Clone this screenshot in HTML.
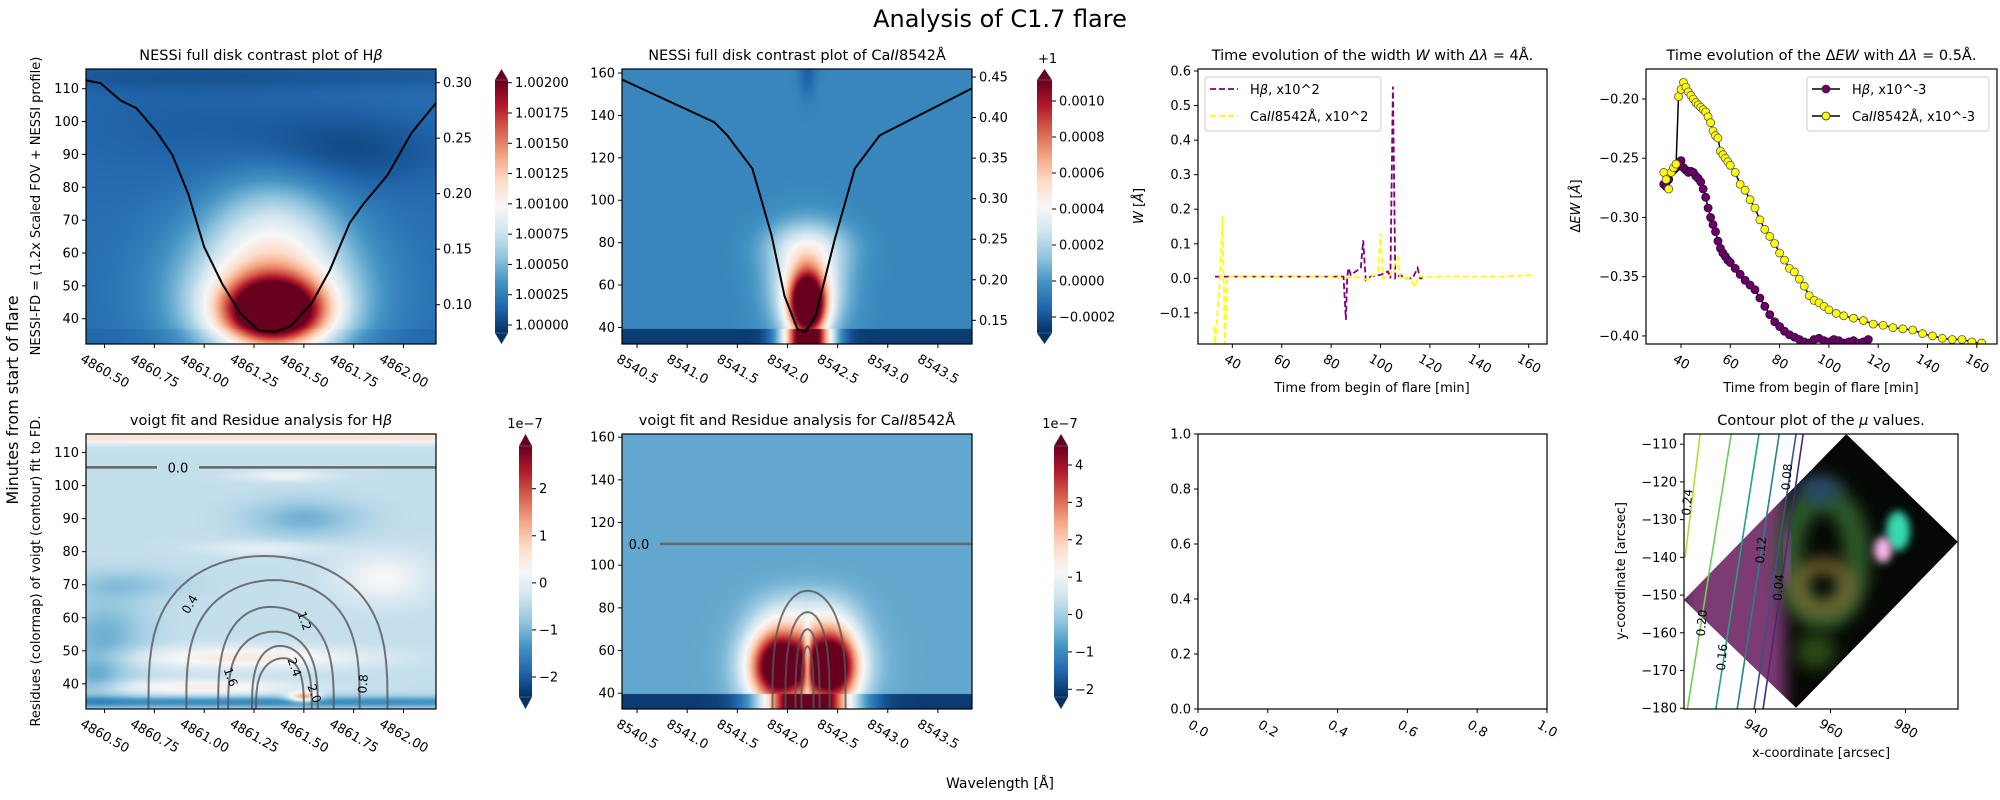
<!DOCTYPE html>
<html><head><meta charset="utf-8">
<style>
html,body{margin:0;padding:0;background:#fff;}
#fig{position:relative;width:2000px;height:800px;overflow:hidden;background:#fff;font-family:"DejaVu Sans","Liberation Sans",sans-serif;}
canvas{position:absolute;}
svg{position:absolute;left:0;top:0;}
text{font-family:"DejaVu Sans","Liberation Sans",sans-serif;fill:#000;}
</style></head>
<body>
<div id="fig">
<canvas id="hm1"></canvas>
<canvas id="hm2"></canvas>
<canvas id="hm3"></canvas>
<canvas id="hm4"></canvas>
<svg id="svg" width="2000" height="800" xmlns="http://www.w3.org/2000/svg">
<defs>
<linearGradient id="rdbu" x1="0" y1="1" x2="0" y2="0">
<stop offset="0" stop-color="#053061"/><stop offset="0.1" stop-color="#2166ac"/><stop offset="0.2" stop-color="#4393c3"/><stop offset="0.3" stop-color="#92c5de"/><stop offset="0.4" stop-color="#d1e5f0"/><stop offset="0.5" stop-color="#f7f7f7"/><stop offset="0.6" stop-color="#fddbc7"/><stop offset="0.7" stop-color="#f4a582"/><stop offset="0.8" stop-color="#d6604d"/><stop offset="0.9" stop-color="#b2182b"/><stop offset="1" stop-color="#67001f"/>
</linearGradient>
<filter id="blur8" x="-50%" y="-50%" width="200%" height="200%"><feGaussianBlur stdDeviation="8"/></filter>
<filter id="blur4" x="-50%" y="-50%" width="200%" height="200%"><feGaussianBlur stdDeviation="4"/></filter>
</defs>
<text x="1000" y="27" font-size="24" text-anchor="middle">Analysis of C1.7 flare</text>
<text transform="translate(18,400) rotate(-90)" font-size="16" text-anchor="middle">Minutes from start of flare</text>
<text transform="translate(40,206) rotate(-90)" font-size="13" text-anchor="middle">NESSI-FD = (1.2x Scaled FOV + NESSI profile)</text>
<text transform="translate(40,571) rotate(-90)" font-size="13" text-anchor="middle">Residues (colormap) of voigt (contour) fit to FD.</text>
<text x="1000" y="788" font-size="14" text-anchor="middle">Wavelength [Å]</text>
</svg>
</div>
<script>
// ---------------- DATA ----------------
const hbContrastBase = 0.12;
const hbContrastBlobs = [[4861.35,42,0.18,7,0.9],[4861.33,48,0.3,14,0.45],[4861.35,68,0.22,12,0.18],[4861.7,91,0.35,8,-0.07],[4860.9,100,0.5,12,-0.03],[4861.3,114,2,3,-0.04]];
const caContrastBase = 0.17;
const caContrastBlobs = [[8542.2,50,0.13,11,0.95],[8542.2,60,0.25,16,0.35],[8542.2,78,0.3,8,0.15],[8542.2,160,0.06,8,-0.08]];
const caDarkBandMax = 39.5;
const hbResBase = 0.38;
const hbResBlobs = [[4861.3,114.5,3,1.2,0.2],[4861.2,48,0.4,2.2,0.17],[4861.0,39,0.3,1.5,0.16],[4861.9,72,0.15,5,0.12],[4861.5,90,0.2,4,-0.12],[4860.5,55,0.15,8,-0.12],[4860.45,42,0.1,5,-0.1],[4860.6,70,0.2,3,-0.08],[4861.3,34.5,2,1.3,-0.2],[4861.5,36,0.05,1,0.4],[4861.4,103,0.15,1.2,0.1],[4861.3,81,0.2,1.5,0.08]];
const caResBase = 0.24;
const caResBlobs = [[8541.9,52,0.2,13,0.8],[8542.45,52,0.18,13,0.8],[8542.2,55,0.35,12,0.3],[8542.2,78,0.3,8,0.12],[8542.2,55,0.03,10,-0.4]];
const caResDarkBandMax = 39.5;
const hbProfileLam = [4860.407,4860.48,4860.58,4860.66,4860.76,4860.84,4860.92,4861.0,4861.09,4861.18,4861.27,4861.35,4861.43,4861.54,4861.63,4861.73,4861.80,4861.92,4862.04,4862.163];
const hbProfileVal = [0.302,0.2995,0.284,0.277,0.256,0.235,0.2,0.152,0.119,0.0925,0.077,0.0757,0.080,0.1015,0.131,0.1736,0.191,0.2168,0.2547,0.2817];
const caProfileLam = [8540.34,8541.27,8541.40,8541.65,8541.84,8541.97,8542.10,8542.18,8542.28,8542.47,8542.67,8542.92,8543.84];
const caProfileVal = [0.4475,0.3943,0.378,0.337,0.2556,0.18,0.139,0.136,0.1553,0.249,0.337,0.378,0.436];
const wHbTime = [33,85,86,86.5,87,88,90,92,93,94,96,100,103,104,105,106,108,110,113,115,116,117];
const wHbVal = [0.005,0.005,-0.12,0.0,0.03,0.01,0.02,0.03,0.11,-0.005,0.005,0.01,0.02,0.0,0.555,0.0,0.01,0.0,0.0,0.03,0.0,0.0];
const wCaTime = [32.5,33,35,36,37,38,80,85,90,95,99,100,101,104,107,108,112,114,115,120,130,140,150,162];
const wCaVal = [-0.14,-0.19,0.0,0.18,-0.19,0.005,0.005,0.0,0.005,-0.005,0.02,0.13,0.0,0.01,0.06,0.0,0.0,-0.025,0.005,0.005,0.005,0.005,0.005,0.01];
const ewHbTime = [33,34,35,36,37,38,39,40,41,42,43,44,45,46,47,48,49,50,51,52,53,54,55,56,57,58,59,60,62,64,66,68,70,72,74,76,78,80,82,84,86,88,90,92,94,96,98,100,102,104,106,108,110,112,114,116];
const ewHbVal = [-0.272,-0.274,-0.268,-0.262,-0.26,-0.258,-0.256,-0.252,-0.258,-0.26,-0.262,-0.261,-0.262,-0.265,-0.267,-0.27,-0.276,-0.283,-0.292,-0.3,-0.306,-0.312,-0.32,-0.326,-0.33,-0.333,-0.336,-0.338,-0.343,-0.348,-0.353,-0.357,-0.361,-0.368,-0.375,-0.382,-0.388,-0.392,-0.396,-0.399,-0.401,-0.403,-0.405,-0.406,-0.403,-0.402,-0.404,-0.405,-0.403,-0.404,-0.406,-0.405,-0.404,-0.406,-0.405,-0.403];
const ewCaTime = [33,34,35,36,37,38,39,40,41,42,43,44,45,46,47,48,49,50,51,52,53,54,55,56,57,58,59,60,62,64,66,68,70,72,74,76,78,80,82,84,86,88,90,92,94,96,98,100,103,106,110,114,118,122,126,130,134,138,142,146,150,154,158,162];
const ewCaVal = [-0.262,-0.268,-0.276,-0.262,-0.258,-0.255,-0.198,-0.192,-0.186,-0.19,-0.194,-0.197,-0.2,-0.203,-0.205,-0.207,-0.209,-0.211,-0.215,-0.22,-0.227,-0.231,-0.233,-0.244,-0.247,-0.25,-0.253,-0.256,-0.262,-0.272,-0.277,-0.285,-0.292,-0.302,-0.31,-0.316,-0.322,-0.33,-0.336,-0.343,-0.346,-0.352,-0.358,-0.366,-0.37,-0.372,-0.375,-0.378,-0.381,-0.383,-0.385,-0.387,-0.39,-0.391,-0.393,-0.394,-0.395,-0.398,-0.4,-0.402,-0.403,-0.403,-0.405,-0.406];
const hbContourLevels = [["0.4",4861.30,78.7,4860.72,4861.92],["0.8",4861.35,71.4,4860.91,4861.78],["1.2",4861.33,63.3,4861.07,4861.65],["1.6",4861.35,55.8,4861.12,4861.57],["2.0",4861.38,51.5,4861.24,4861.54],["2.4",4861.40,47.8,4861.26,4861.50]];
const hbContourLabelLam = [4860.93,4861.80,4861.50,4861.13,4861.55,4861.45];
const hbContourLabelMin = [64,40,59,42,37,45];
const caContourLevels = [["0.3",8542.2,88,8541.85,8542.58],["0.6",8542.2,78,8541.98,8542.42],["0.9",8542.2,70,8542.08,8542.32],["1.2",8542.2,62,8542.14,8542.26]];
const muLevels = [["0.24",925.2,921.2,-140,"#b5de2b"],["0.20",933.5,921.8,-180.2,"#6ece58"],["0.16",940.9,929.4,-180.2,"#1fa187"],["0.12",946.3,935.1,-180.2,"#277f8e"],["0.08",950.8,939.6,-180.2,"#3b528b"],["0.04",952.7,942.0,-180.2,"#482878"]];
const muLabelX = [921.9,925.8,931.2,941.6,948.5,946.3];
const muLabelY = [-125.4,-157.4,-166.5,-138.1,-118.7,-148.0];
const imgCornerX = [964.2,994,950.8,920.9];
const imgCornerY = [-107.3,-135.9,-179.9,-151.3];

// ---------------- HELPERS ----------------
const NS = "http://www.w3.org/2000/svg";
const svg = document.getElementById('svg');
function mk(tag, attrs, parent){ const e=document.createElementNS(NS,tag); for(const k in attrs) e.setAttribute(k,attrs[k]); (parent||svg).appendChild(e); return e; }
function lin(d0,d1,r0,r1){ return v => r0+(v-d0)/(d1-d0)*(r1-r0); }
const stops=[[5,48,97],[33,102,172],[67,147,195],[146,197,222],[209,229,240],[247,247,247],[253,219,199],[244,165,130],[214,96,77],[178,24,43],[103,0,31]];
function cmap(n){ n=Math.max(0,Math.min(1,n)); const f=n*10; const i=Math.min(9,Math.floor(f)); const t=f-i; const a=stops[i], b=stops[i+1]; return [a[0]+(b[0]-a[0])*t,a[1]+(b[1]-a[1])*t,a[2]+(b[2]-a[2])*t]; }
function fmt(v,d){ const s=Math.abs(v).toFixed(d); return (v<0?"−":"")+s; }
function panel(p){ p.sx = lin(p.xd[0],p.xd[1],p.x0,p.x1); p.sy = lin(p.yd[0],p.yd[1],p.y1,p.y0); return p; }
function drawTitle(p, html, name){
  const t = mk('text',{x:(p.x0+p.x1)/2, y:p.y0-9, 'font-size':14.5, 'text-anchor':'middle'});
  t.innerHTML = html;
  
  
}
function drawFrame(p, name){
  const r = mk('rect',{x:p.x0,y:p.y0,width:p.x1-p.x0,height:p.y1-p.y0,fill:'none',stroke:'#000','stroke-width':1.2});
  
  
}
function drawXTicks(p, ticks, dec, name){
  ticks.forEach(v=>{
    const x=p.sx(v);
    const l=mk('line',{x1:x,x2:x,y1:p.y1,y2:p.y1+4,stroke:'#000','stroke-width':1});
    
    
    const s=fmt(v,dec);
    const off=15+s.length*1.8;
    const t=mk('text',{transform:`translate(${x},${p.y1+off}) rotate(30)`,'font-size':13,'text-anchor':'middle','dominant-baseline':'middle'});
    t.textContent=s;
    
    
  });
}
function drawYTicks(p, ticks, dec, name, right, scale){
  const sc = scale||p.sy;
  ticks.forEach(v=>{
    const y=sc(v);
    const x=right?p.x1:p.x0;
    const l=mk('line',{x1:x,x2:right?x+4:x-4,y1:y,y2:y,stroke:'#000','stroke-width':1});
    
    
    const t=mk('text',{x:right?x+7:x-7,y:y+4.5,'font-size':13,'text-anchor':right?'start':'end'});
    t.textContent=fmt(v,dec);
    
    
  });
}
function drawColorbar(cb, name){
  const g=mk('g',{});
  
  
  const r=mk('rect',{x:cb.x0,y:cb.r0,width:cb.x1-cb.x0,height:cb.r1-cb.r0,fill:'url(#rdbu)'},g);
  
  
  const xm=(cb.x0+cb.x1)/2;
  const up=mk('polygon',{points:`${cb.x0},${cb.r0} ${cb.x1},${cb.r0} ${xm},${cb.y0}`,fill:'#67001f',stroke:'#888','stroke-width':0.5},g);
  
  
  const dn=mk('polygon',{points:`${cb.x0},${cb.r1} ${cb.x1},${cb.r1} ${xm},${cb.y1}`,fill:'#053061',stroke:'#888','stroke-width':0.5},g);
  
  
  const sc=lin(cb.t0v,cb.t1v,cb.t0y,cb.t1y);
  cb.ticks.forEach(v=>{
    const y=sc(v);
    const l=mk('line',{x1:cb.x1,x2:cb.x1+4,y1:y,y2:y,stroke:'#000'},g);
    
    
    const t=mk('text',{x:cb.x1+7,y:y+4.5,'font-size':13},g);
    t.textContent=fmt(v,cb.dec);
    
    
  });
}
function field(base, blobs, lam, t){
  let v=base;
  for(const b of blobs){ const dx=(lam-b[0])/b[2], dy=(t-b[1])/b[3]; v+=b[4]*Math.exp(-0.5*(dx*dx+dy*dy)); }
  return v;
}
function paintHeatmap(id, p, fn){
  const c=document.getElementById(id);
  const w=p.x1-p.x0, h=p.y1-p.y0;
  c.width=w; c.height=h; c.style.left=p.x0+'px'; c.style.top=p.y0+'px';
  const ctx=c.getContext('2d');
  const img=ctx.createImageData(w,h);
  const ix=lin(p.x0,p.x1,p.xd[0],p.xd[1]), iy=lin(p.y1,p.y0,p.yd[0],p.yd[1]);
  for(let j=0;j<h;j++){
    const t=iy(p.y0+j+0.5);
    for(let i=0;i<w;i++){
      const lam=ix(p.x0+i+0.5);
      const col=cmap(fn(lam,t));
      const k=(j*w+i)*4;
      img.data[k]=col[0];img.data[k+1]=col[1];img.data[k+2]=col[2];img.data[k+3]=255;
    }
  }
  ctx.putImageData(img,0,0);
}
function polyline(p, xs, ys, attrs, name, sy){
  const sc=sy||p.sy;
  const pts=xs.map((x,i)=>p.sx(x).toFixed(1)+','+sc(ys[i]).toFixed(1)).join(' ');
  attrs.points=pts; attrs.fill='none';
  const e=mk('polyline',attrs);
  
  
  return e;
}
function clip(p,id){
  const cp=mk('clipPath',{id:id}, svg.querySelector('defs'));
  mk('rect',{x:p.x0,y:p.y0,width:p.x1-p.x0,height:p.y1-p.y0},cp);
}

// ---------------- PANELS ----------------
const P1=panel({x0:86,x1:436,y0:69,y1:344,xd:[4860.407,4862.163],yd:[32.3,116]});
const P2=panel({x0:622,x1:972,y0:69,y1:344,xd:[8540.35,8543.84],yd:[32.2,161.9]});
const P3=panel({x0:1198,x1:1547,y0:69,y1:344,xd:[26.1,167.4],yd:[-0.19,0.6058]});
const P4=panel({x0:1646,x1:1997,y0:69,y1:344,xd:[25.8,168.2],yd:[-0.4068,-0.1747]});
const B1=panel({x0:86,x1:436,y0:434,y1:709,xd:[4860.407,4862.163],yd:[32.4,115.6]});
const B2=panel({x0:622,x1:972,y0:434,y1:709,xd:[8540.35,8543.84],yd:[32.6,161.5]});
const B3=panel({x0:1198,x1:1547,y0:434,y1:709,xd:[0,1],yd:[0,1]});
const B4=panel({x0:1684,x1:1958,y0:434,y1:709,xd:[920.9,994],yd:[-180.2,-107.3]});

paintHeatmap('hm1',P1,(l,t)=>field(hbContrastBase,hbContrastBlobs,l,t) - (t<37?0.02:0));
paintHeatmap('hm2',P2,(l,t)=>{ const v=field(caContrastBase,caContrastBlobs,l,t); if(t<caDarkBandMax){ const core=Math.exp(-0.5*Math.pow((l-8542.2)/0.17,2)); return Math.max(0, 0.02+core*1.2);} return v; });
paintHeatmap('hm3',B1,(l,t)=>field(hbResBase,hbResBlobs,l,t));
paintHeatmap('hm4',B2,(l,t)=>{ const v=field(caResBase,caResBlobs,l,t); if(t<caResDarkBandMax){ const core=Math.exp(-0.5*Math.pow((l-8542.2)/0.3,2)); return Math.max(0, 0.02+core*1.3);} return v; });

// ---- P1 ----
const P1r=lin(0.0646,0.3123,P1.y1,P1.y0);
clip(P1,'c1');
polyline(P1,hbProfileLam,hbProfileVal,{stroke:'#000','stroke-width':2,'clip-path':'url(#c1)'},'hbeta-profile-line',P1r);
drawFrame(P1,'hbeta-contrast-axes');
drawTitle(P1,'NESSi full disk contrast plot of H<tspan font-style="italic">β</tspan>','hbeta-contrast-title');
drawXTicks(P1,[4860.5,4860.75,4861.0,4861.25,4861.5,4861.75,4862.0],2,'hbeta-contrast-x');
drawYTicks(P1,[40,50,60,70,80,90,100,110],0,'hbeta-contrast-y');
drawYTicks(P1,[0.10,0.15,0.20,0.25,0.30],2,'hbeta-contrast-right-y',true,P1r);
drawColorbar({x0:495,x1:508,y0:69,y1:344,r0:80,r1:333,t0v:1.0,t1v:1.002,t0y:325,t1y:82.7,ticks:[1.0,1.00025,1.0005,1.00075,1.001,1.00125,1.0015,1.00175,1.002],dec:5},'hbeta-contrast-colorbar');

// ---- P2 ----
const P2r=lin(0.1208,0.4599,P2.y1,P2.y0);
clip(P2,'c2');
polyline(P2,caProfileLam,caProfileVal,{stroke:'#000','stroke-width':2,'clip-path':'url(#c2)'},'ca-profile-line',P2r);
drawFrame(P2,'ca-contrast-axes');
drawTitle(P2,'NESSi full disk contrast plot of Ca<tspan font-style="italic">II</tspan>8542Å','ca-contrast-title');
drawXTicks(P2,[8540.5,8541.0,8541.5,8542.0,8542.5,8543.0,8543.5],1,'ca-contrast-x');
drawYTicks(P2,[40,60,80,100,120,140,160],0,'ca-contrast-y');
drawYTicks(P2,[0.15,0.20,0.25,0.30,0.35,0.40,0.45],2,'ca-contrast-right-y',true,P2r);
drawColorbar({x0:1037,x1:1052,y0:69,y1:344,r0:80,r1:333,t0v:-0.0002,t1v:0.0010,t0y:317,t1y:101,ticks:[-0.0002,0,0.0002,0.0004,0.0006,0.0008,0.0010],dec:4},'ca-contrast-colorbar');
const plus=mk('text',{x:1038,y:63,'font-size':13});
plus.textContent='+1';



// ---- P3 ----
clip(P3,'c3');
polyline(P3,wHbTime,wHbVal,{stroke:'#800080','stroke-width':1.8,'stroke-dasharray':'6,3','clip-path':'url(#c3)'},'width-hbeta-line');
polyline(P3,wCaTime,wCaVal,{stroke:'#ffff00','stroke-width':1.8,'stroke-dasharray':'6,3','clip-path':'url(#c3)'},'width-ca-line');
drawFrame(P3,'width-axes');
drawTitle(P3,'Time evolution of the width <tspan font-style="italic">W</tspan> with <tspan font-style="italic">Δλ</tspan> = 4Å.','width-title');
drawXTicks(P3,[40,60,80,100,120,140,160],0,'width-x');
drawYTicks(P3,[-0.1,0,0.1,0.2,0.3,0.4,0.5,0.6],1,'width-y');
let t=mk('text',{x:1372,y:392,'font-size':13,'text-anchor':'middle'}); t.textContent='Time from begin of flare [min]';


t=mk('text',{transform:'translate(1143,206) rotate(-90)','font-size':13,'text-anchor':'middle'}); t.innerHTML='<tspan font-style="italic">W</tspan> [<tspan font-style="italic">Å</tspan>]';


const lg3=mk('g',{});


mk('rect',{x:1205,y:77,width:176,height:54,rx:3,fill:'#fff','fill-opacity':0.8,stroke:'#ccc'},lg3);
[['#800080','H<tspan font-style="italic">β</tspan>, x10^2',89],['#ffff00','Ca<tspan font-style="italic">II</tspan>8542Å, x10^2',116]].forEach(e=>{
  const ln=mk('line',{x1:1210,x2:1238,y1:e[2],y2:e[2],stroke:e[0],'stroke-width':1.8,'stroke-dasharray':'6,3'},lg3);
  
  
  const tx=mk('text',{x:1250,y:e[2]+5,'font-size':13},lg3); tx.innerHTML=e[1];
  
  
});

// ---- P4 ----
clip(P4,'c4');
polyline(P4,ewHbTime,ewHbVal,{stroke:'#000','stroke-width':1.5,'clip-path':'url(#c4)'},'ew-hbeta-line');
ewHbTime.forEach((tm,i)=>{ const c=mk('circle',{cx:P4.sx(tm),cy:P4.sy(ewHbVal[i]),r:4,fill:'#6b006b',stroke:'#2a002a','stroke-width':0.8,'clip-path':'url(#c4)'});
  
   });
polyline(P4,ewCaTime,ewCaVal,{stroke:'#000','stroke-width':1.5,'clip-path':'url(#c4)'},'ew-ca-line');
ewCaTime.forEach((tm,i)=>{ const c=mk('circle',{cx:P4.sx(tm),cy:P4.sy(ewCaVal[i]),r:4,fill:'#ffff00',stroke:'#555','stroke-width':0.8,'clip-path':'url(#c4)'});
  
   });
drawFrame(P4,'ew-axes');
drawTitle(P4,'Time evolution of the Δ<tspan font-style="italic">EW</tspan> with <tspan font-style="italic">Δλ</tspan> = 0.5Å.','ew-title');
drawXTicks(P4,[40,60,80,100,120,140,160],0,'ew-x');
drawYTicks(P4,[-0.40,-0.35,-0.30,-0.25,-0.20],2,'ew-y');
t=mk('text',{x:1821,y:392,'font-size':13,'text-anchor':'middle'}); t.textContent='Time from begin of flare [min]';


t=mk('text',{transform:'translate(1580,206) rotate(-90)','font-size':13,'text-anchor':'middle'}); t.innerHTML='Δ<tspan font-style="italic">EW</tspan> [<tspan font-style="italic">Å</tspan>]';


const lg4=mk('g',{});


mk('rect',{x:1807,y:77,width:182,height:54,rx:3,fill:'#fff','fill-opacity':0.8,stroke:'#ccc'},lg4);
[['#6b006b','H<tspan font-style="italic">β</tspan>, x10^-3',89],['#ffff00','Ca<tspan font-style="italic">II</tspan>8542Å, x10^-3',116]].forEach(e=>{
  const ln=mk('line',{x1:1812,x2:1840,y1:e[2],y2:e[2],stroke:'#000','stroke-width':1.5},lg4);
  
  
  const mc=mk('circle',{cx:1826,cy:e[2],r:4,fill:e[0],stroke:'#333','stroke-width':0.8},lg4);
  
  
  const tx=mk('text',{x:1852,y:e[2]+5,'font-size':13},lg4); tx.innerHTML=e[1];
  
  
});

function arch(p, lev, bottomT, name, clipId){
  const [lab,cx,apex,lb,rb]=lev;
  const pts=[];
  for(let k=0;k<=40;k++){
    const u=-1+2*k/40;
    const s=Math.sin(u*Math.PI/2);
    const lam = cx + (u<0 ? (cx-lb) : (rb-cx))*s;
    const tt = bottomT + (apex-bottomT)*Math.pow(Math.cos(u*Math.PI/2),0.6);
    pts.push(p.sx(lam).toFixed(1)+','+p.sy(tt).toFixed(1));
  }
  const e=mk('polyline',{points:pts.join(' '),fill:'none',stroke:'#555','stroke-opacity':0.8,'stroke-width':2,'clip-path':`url(#${clipId})`});
  
  
}

// ---- B1 ----
clip(B1,'cb1');
hbContourLevels.forEach(l=>arch(B1,l,B1.yd[0]-1,'hbeta-residue-contour-'+l[0],'cb1'));
hbContourLevels.forEach((l,i)=>{
  const lt=mk('text',{transform:`translate(${B1.sx(hbContourLabelLam[i])},${B1.sy(hbContourLabelMin[i])}) rotate(${i===1?-85:(i===0?-60:70)})`,'font-size':12,'text-anchor':'middle','dominant-baseline':'middle',fill:'#555'});
  lt.textContent=l[0];
  
  
});
let z=mk('line',{x1:B1.x0,x2:B1.x0+71,y1:B1.sy(105.5),y2:B1.sy(105.5),stroke:'#666','stroke-width':2.5});


z=mk('line',{x1:B1.x0+113,x2:B1.x1,y1:B1.sy(105.5),y2:B1.sy(105.5),stroke:'#666','stroke-width':2.5});


t=mk('text',{x:B1.x0+92,y:B1.sy(105.5)+5,'font-size':13,'text-anchor':'middle',fill:'#666'}); t.textContent='0.0';


drawFrame(B1,'hbeta-residue-axes');
drawTitle(B1,'voigt fit and Residue analysis for H<tspan font-style="italic">β</tspan>','hbeta-residue-title');
drawXTicks(B1,[4860.5,4860.75,4861.0,4861.25,4861.5,4861.75,4862.0],2,'hbeta-residue-x');
drawYTicks(B1,[40,50,60,70,80,90,100,110],0,'hbeta-residue-y');
drawColorbar({x0:519,x1:532,y0:434,y1:709,r0:446,r1:697,t0v:-2,t1v:2,t0y:677,t1y:488.7,ticks:[-2,-1,0,1,2],dec:0},'hbeta-residue-colorbar');
t=mk('text',{x:525,y:428,'font-size':13,'text-anchor':'middle'}); t.textContent='1e−7';



// ---- B2 ----
clip(B2,'cb2');
caContourLevels.forEach(l=>arch(B2,l,B2.yd[0]-1,'ca-residue-contour-'+l[0],'cb2'));
z=mk('line',{x1:B2.x0+38,x2:B2.x1,y1:B2.sy(110),y2:B2.sy(110),stroke:'#666','stroke-width':2.5});


t=mk('text',{x:B2.x0+17,y:B2.sy(110)+5,'font-size':13,'text-anchor':'middle',fill:'#666'}); t.textContent='0.0';


drawFrame(B2,'ca-residue-axes');
drawTitle(B2,'voigt fit and Residue analysis for Ca<tspan font-style="italic">II</tspan>8542Å','ca-residue-title');
drawXTicks(B2,[8540.5,8541.0,8541.5,8542.0,8542.5,8543.0,8543.5],1,'ca-residue-x');
drawYTicks(B2,[40,60,80,100,120,140,160],0,'ca-residue-y');
drawColorbar({x0:1054,x1:1068,y0:434,y1:709,r0:446,r1:697,t0v:-2,t1v:4,t0y:689.3,t1y:465,ticks:[-2,-1,0,1,2,3,4],dec:0},'ca-residue-colorbar');
t=mk('text',{x:1060,y:428,'font-size':13,'text-anchor':'middle'}); t.textContent='1e−7';



// ---- B3 empty ----
drawFrame(B3,'empty-axes');
drawXTicks(B3,[0,0.2,0.4,0.6,0.8,1.0],1,'empty-x');
drawYTicks(B3,[0,0.2,0.4,0.6,0.8,1.0],1,'empty-y');

// ---- B4 ----
const dpts=imgCornerX.map((x,i)=>B4.sx(x).toFixed(1)+','+B4.sy(imgCornerY[i]).toFixed(1)).join(' ');
const dcp=mk('clipPath',{id:'diam'},svg.querySelector('defs'));
mk('polygon',{points:dpts},dcp);
const gi=mk('g',{'clip-path':'url(#diam)'});


mk('polygon',{points:dpts,fill:'#050805'},gi);
mk('rect',{x:B4.sx(920),y:B4.y0,width:B4.sx(948)-B4.sx(920),height:275,fill:'#7d3a73',filter:'url(#blur8)'},gi);
mk('ellipse',{cx:B4.sx(958),cy:B4.sy(-140),rx:34,ry:60,fill:'none',stroke:'#2f5a2a','stroke-width':26,filter:'url(#blur8)'},gi);
mk('ellipse',{cx:B4.sx(958),cy:B4.sy(-148),rx:26,ry:22,fill:'none',stroke:'#7a6a30','stroke-width':14,filter:'url(#blur8)'},gi);
mk('ellipse',{cx:B4.sx(957),cy:B4.sy(-122),rx:22,ry:14,fill:'#2a4a6a',filter:'url(#blur8)'},gi);
mk('ellipse',{cx:B4.sx(978),cy:B4.sy(-133),rx:12,ry:20,fill:'#35d8b0',filter:'url(#blur4)'},gi);
mk('ellipse',{cx:B4.sx(974),cy:B4.sy(-138),rx:9,ry:13,fill:'#f4b6e6',filter:'url(#blur4)'},gi);
mk('ellipse',{cx:B4.sx(956),cy:B4.sy(-165),rx:20,ry:18,fill:'#2b4a18',filter:'url(#blur8)'},gi);
mk('ellipse',{cx:B4.sx(948.5),cy:B4.sy(-140),rx:2,ry:30,fill:'#d040d0',filter:'url(#blur4)'},gi);
clip(B4,'cb4');
muLevels.forEach((m,i)=>{
  const e=mk('line',{x1:B4.sx(m[1]),y1:B4.y0,x2:B4.sx(m[2]),y2:B4.sy(m[3]),stroke:m[4],'stroke-width':1.6,'clip-path':'url(#cb4)'});
  
  
  const lt=mk('text',{transform:`translate(${B4.sx(muLabelX[i])},${B4.sy(muLabelY[i])}) rotate(-85)`,'font-size':12,'text-anchor':'middle','dominant-baseline':'middle',fill:m[4]});
  lt.textContent=m[0];
  
  
});
drawFrame(B4,'mu-axes');
drawTitle(B4,'Contour plot of the <tspan font-style="italic">μ</tspan> values.','mu-title');
drawXTicks(B4,[940,960,980],0,'mu-x');
drawYTicks(B4,[-180,-170,-160,-150,-140,-130,-120,-110],0,'mu-y');
t=mk('text',{x:1821,y:757,'font-size':13,'text-anchor':'middle'}); t.textContent='x-coordinate [arcsec]';


t=mk('text',{transform:'translate(1625,571) rotate(-90)','font-size':13,'text-anchor':'middle'}); t.textContent='y-coordinate [arcsec]';


</script>
</body></html>
